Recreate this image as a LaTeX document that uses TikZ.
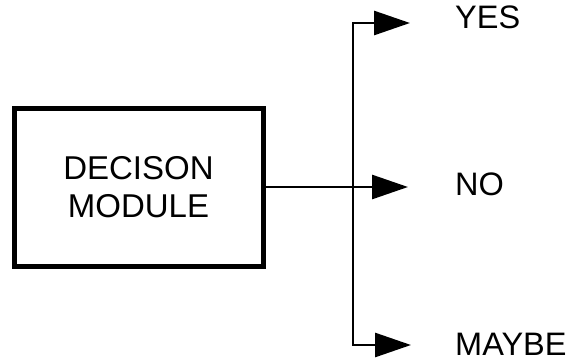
\documentclass[tikz,border=0pt]{standalone}
\usepackage{fontspec}
\setmainfont{Liberation Sans}
\usetikzlibrary{arrows.meta}
\begin{document}
\begin{tikzpicture}[x=1pt,y=-1pt,
  modbox/.style={draw,line width=5pt,minimum width=249pt,minimum height=158pt,inner sep=0pt,align=center,font=\fontsize{33}{38}\selectfont},
  lbl/.style={anchor=west,inner sep=0pt,font=\fontsize{32.5}{38}\selectfont},
  wire/.style={line width=2.8pt},
  arr/.style={wire,-{Triangle[length=36pt,width=24pt]}}]
\useasboundingbox (0,0) rectangle (573,359);
\node[modbox] (box) at (138.5,187) {DECISON\\MODULE};
\coordinate (j) at (353,187);
\coordinate (ty) at (410,23);
\coordinate (tn) at (408,187);
\coordinate (tm) at (411,345);
\node[lbl] (yes) at (455,17) {YES};
\node[lbl] (no) at (455,184) {NO};
\node[lbl] (maybe) at (455,344) {MAYBE};
\draw[wire] (box.east) -- (j);
\draw[arr] (j) |- (ty);
\draw[arr] (j) -- (tn);
\draw[arr] (j) |- (tm);
\end{tikzpicture}
\end{document}
